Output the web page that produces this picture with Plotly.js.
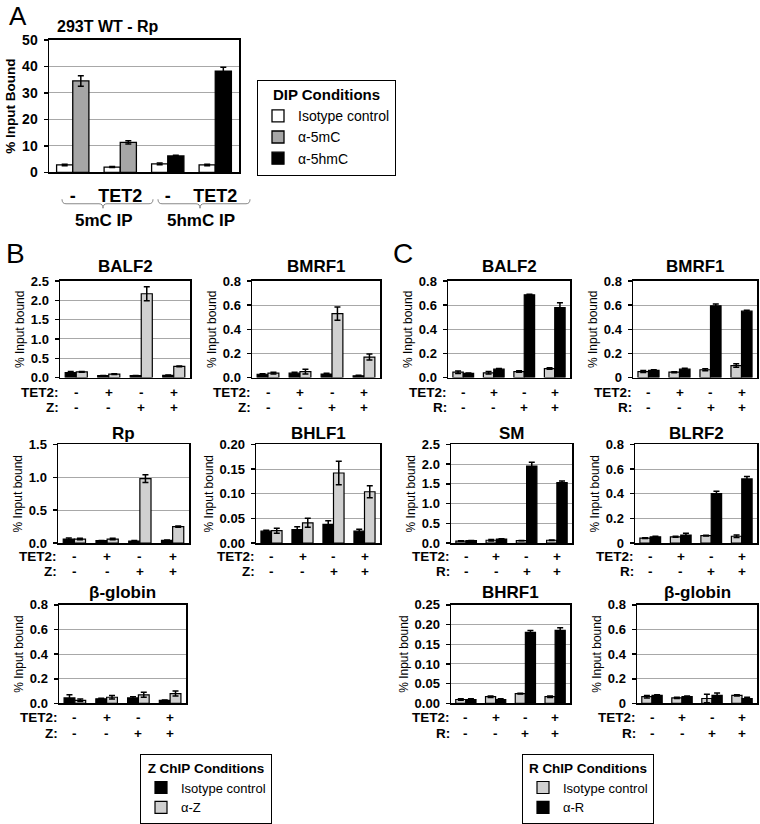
<!DOCTYPE html>
<html><head><meta charset="utf-8">
<script src="https://cdn.plot.ly/plotly-3.0.1.min.js"></script>
<style>html,body{margin:0;padding:0;background:#fff}</style>
</head><body><div id="chart" style="width:760px;height:824px"></div>
<script>
// ---------- Panel A data ----------
const aGroups = ['-', 'TET2', '-', 'TET2'];
const aIsotype = [2.8, 2.0, 3.2, 2.8];
const aIsotypeErr = [0.3, 0.2, 0.3, 0.3];
const a5mC = [34.5, 11.3, null, null];
const a5mCErr = [2.0, 0.6, 0, 0];
const a5hmC = [null, null, 6.2, 38.2];
const a5hmCErr = [0, 0, 0.3, 1.5];
const aIpLabels = ['5mC IP', '5hmC IP'];

// ---------- Row labels ----------
const tet2Row = ['-', '+', '-', '+'];
const zRow = ['-', '-', '+', '+'];
const rRow = ['-', '-', '+', '+'];

// ---------- Panel B (Z ChIP) ----------
const zBALF2Iso = [0.13, 0.05, 0.05, 0.06];
const zBALF2IsoErr = [0.03, 0.005, 0.005, 0.01];
const zBALF2Ab = [0.15, 0.09, 2.17, 0.29];
const zBALF2AbErr = [0.01, 0.01, 0.18, 0.01];

const zBMRF1Iso = [0.028, 0.037, 0.03, 0.015];
const zBMRF1IsoErr = [0.005, 0.008, 0.006, 0.004];
const zBMRF1Ab = [0.037, 0.05, 0.53, 0.17];
const zBMRF1AbErr = [0.007, 0.02, 0.055, 0.025];

const zRpIso = [0.06, 0.035, 0.03, 0.04];
const zRpIsoErr = [0.015, 0.005, 0.008, 0.005];
const zRpAb = [0.06, 0.06, 0.98, 0.25];
const zRpAbErr = [0.012, 0.012, 0.06, 0.01];

const zBHLF1Iso = [0.024, 0.027, 0.038, 0.024];
const zBHLF1IsoErr = [0.002, 0.006, 0.007, 0.004];
const zBHLF1Ab = [0.025, 0.041, 0.142, 0.104];
const zBHLF1AbErr = [0.005, 0.009, 0.024, 0.012];

const zGlobinIso = [0.045, 0.038, 0.045, 0.025];
const zGlobinIsoErr = [0.025, 0.005, 0.01, 0.003];
const zGlobinAb = [0.025, 0.05, 0.07, 0.08];
const zGlobinAbErr = [0.01, 0.015, 0.02, 0.02];

// ---------- Panel C (R ChIP) ----------
const rBALF2Iso = [0.045, 0.04, 0.05, 0.075];
const rBALF2IsoErr = [0.01, 0.01, 0.006, 0.006];
const rBALF2Ab = [0.035, 0.07, 0.685, 0.58];
const rBALF2AbErr = [0.003, 0.005, 0.005, 0.04];

const rBMRF1Iso = [0.05, 0.045, 0.065, 0.1];
const rBMRF1IsoErr = [0.008, 0.004, 0.008, 0.015];
const rBMRF1Ab = [0.06, 0.07, 0.595, 0.55];
const rBMRF1AbErr = [0.005, 0.008, 0.015, 0.008];

const rSMIso = [0.05, 0.07, 0.06, 0.07];
const rSMIsoErr = [0.005, 0.02, 0.005, 0.005];
const rSMAb = [0.06, 0.1, 1.95, 1.53];
const rSMAbErr = [0.005, 0.01, 0.1, 0.04];

const rBLRF2Iso = [0.04, 0.05, 0.06, 0.055];
const rBLRF2IsoErr = [0.003, 0.004, 0.004, 0.01];
const rBLRF2Ab = [0.05, 0.065, 0.4, 0.52];
const rBLRF2AbErr = [0.005, 0.015, 0.02, 0.02];

const rBHRF1Iso = [0.01, 0.017, 0.025, 0.017];
const rBHRF1IsoErr = [0.002, 0.002, 0.001, 0.002];
const rBHRF1Ab = [0.01, 0.01, 0.18, 0.185];
const rBHRF1AbErr = [0.002, 0.002, 0.005, 0.007];

const rGlobinIso = [0.055, 0.045, 0.04, 0.065];
const rGlobinIsoErr = [0.01, 0.005, 0.035, 0.005];
const rGlobinAb = [0.065, 0.055, 0.065, 0.04];
const rGlobinAbErr = [0.005, 0.005, 0.02, 0.01];

// ---------- helpers ----------
const W = 760, H = 824;
const px = x => x / W, py = y => 1 - y / H;
const FONT = '"Liberation Sans", Arial, Helvetica, sans-serif';
const cats = [0, 1, 2, 3];
const traces = [], annotations = [], shapes = [];
const layout = {
  width: W, height: H, margin: {l: 0, r: 0, t: 0, b: 0},
  paper_bgcolor: '#fff', plot_bgcolor: '#fff',
  barmode: 'group', bargap: 0.32, bargroupgap: 0,
  font: {family: FONT, color: '#000', size: 12},
  showlegend: true,
  annotations, shapes
};
const ZERO_LABELS = ['0', '0.2', '0.4', '0.6', '0.8'];
const F = (size) => ({family: FONT, size, color: '#000'});

function errObj(arr) {
  return {type: 'data', array: arr, visible: true, color: '#000', thickness: 1.5, width: 3};
}
function ann(text, x, y, opts) {
  annotations.push(Object.assign({text, x, y, xref: 'paper', yref: 'paper', showarrow: false,
    xanchor: 'center', yanchor: 'middle', font: F(14)}, opts || {}));
}

function axes(idx, box, yr, dt, fmt, ticktext, ytitle, ytitleFont, tickSize) {
  const s = idx === 1 ? '' : idx;
  layout['xaxis' + s] = {
    domain: [px(box[0]), px(box[1])], range: [-0.5, 3.5], anchor: 'y' + s,
    showline: true, mirror: true, linecolor: '#000', linewidth: 1.5,
    ticks: '', showticklabels: false, showgrid: false, zeroline: false, fixedrange: true
  };
  const ya = {
    domain: [py(box[3]), py(box[2])], range: yr, anchor: 'x' + s,
    showline: true, mirror: true, linecolor: '#000', linewidth: 1.5,
    ticks: 'outside', ticklen: 4, tickwidth: 1.5, tickcolor: '#000',
    showgrid: true, gridcolor: '#a8a8a8', gridwidth: 1, zeroline: false,
    tickfont: {family: FONT, size: tickSize, color: '#000', weight: 'bold'},
    ticklabelstandoff: 3,
    title: {text: ytitle, font: ytitleFont, standoff: 3}, fixedrange: true
  };
  if (ticktext) {
    ya.tickmode = 'array';
    ya.tickvals = ticktext.map(Number);
    ya.ticktext = ticktext;
  } else {
    ya.dtick = dt; ya.tick0 = 0; ya.tickformat = fmt;
  }
  layout['yaxis' + s] = ya;
}

// ---------- Panel A ----------
axes(1, [49, 239, 40, 173], [0, 50], 10, 'd', null, '<b>% Input Bound</b>', F(13.5), 14);
layout.xaxis.showticklabels = true;
layout.xaxis.tickmode = 'array';
layout.xaxis.tickvals = cats;
layout.xaxis.ticktext = aGroups;
layout.xaxis.tickfont = {family: FONT, size: 18, color: '#000', weight: 'bold'};
layout.xaxis.ticklabelstandoff = 7;

traces.push({type: 'bar', x: cats, y: aIsotype, error_y: errObj(aIsotypeErr), xaxis: 'x', yaxis: 'y',
  marker: {color: '#ffffff', line: {color: '#000', width: 1.3}}, name: 'Isotype control',
  legend: 'legend', legendgroup: 'a1', offsetgroup: '1', hoverinfo: 'skip'});
traces.push({type: 'bar', x: cats, y: a5mC, error_y: errObj(a5mCErr), xaxis: 'x', yaxis: 'y',
  marker: {color: '#a6a6a6', line: {color: '#000', width: 1.3}}, name: 'α-5mC',
  legend: 'legend', legendgroup: 'a2', offsetgroup: '2', hoverinfo: 'skip'});
traces.push({type: 'bar', x: cats, y: a5hmC, error_y: errObj(a5hmCErr), xaxis: 'x', yaxis: 'y',
  marker: {color: '#000000', line: {color: '#000', width: 1.3}}, name: 'α-5hmC',
  legend: 'legend', legendgroup: 'a3', offsetgroup: '2', hoverinfo: 'skip'});

ann('A', px(18), py(16), {font: F(26)});
ann('<b>293T WT - Rp</b>', px(55), py(27), {xanchor: 'left', font: F(16)});
ann('<b>' + aIpLabels[0] + '</b>', px(104), py(221), {font: F(17)});
ann('<b>' + aIpLabels[1] + '</b>', px(201), py(221), {font: F(17)});

function brace(x0, xm, x1, yt, yb) {
  const ym = (yt + yb) / 2;
  const P = (x, y) => px(x).toFixed(5) + ',' + py(y).toFixed(5);
  return 'M' + P(x0, yt) + ' Q' + P(x0, ym) + ' ' + P(x0 + 4, ym) +
    ' L' + P(xm - 4, ym) + ' Q' + P(xm, ym) + ' ' + P(xm, yb) +
    ' Q' + P(xm, ym) + ' ' + P(xm + 4, ym) +
    ' L' + P(x1 - 4, ym) + ' Q' + P(x1, ym) + ' ' + P(x1, yt);
}
shapes.push({type: 'path', xref: 'paper', yref: 'paper', path: brace(62, 103, 153, 200, 209),
  line: {color: '#888', width: 1}});
shapes.push({type: 'path', xref: 'paper', yref: 'paper', path: brace(158, 200, 250, 200, 209),
  line: {color: '#888', width: 1}});

layout.legend = {
  x: px(257), y: py(80), xanchor: 'left', yanchor: 'top',
  bordercolor: '#000', borderwidth: 1, bgcolor: '#fff',
  font: F(14),
  title: {text: '<b>DIP Conditions</b>', side: 'top center', font: F(15)},
  traceorder: 'grouped', tracegroupgap: 0, itemclick: false, itemdoubleclick: false
};

// ---------- Panels B and C ----------
const ROWS = {
  1: {t: 267, r1: 394, r2: 409},
  2: {t: 435, r1: 559, r2: 574},
  3: {t: 595, r1: 720, r2: 736}
};
const bSpecs = [
  {g: 'BALF2', iso: zBALF2Iso, isoE: zBALF2IsoErr, ab: zBALF2Ab, abE: zBALF2AbErr, box: [60, 190, 282, 379], row: 1, yr: [0, 2.5], dt: 0.5, fmt: '.1f'},
  {g: 'BMRF1', iso: zBMRF1Iso, isoE: zBMRF1IsoErr, ab: zBMRF1Ab, abE: zBMRF1AbErr, box: [252, 380, 282, 379], row: 1, yr: [0, 0.8], dt: 0.2, fmt: '.1f'},
  {g: 'Rp', iso: zRpIso, isoE: zRpIsoErr, ab: zRpAb, abE: zRpAbErr, box: [58, 189, 446, 545], row: 2, yr: [0, 1.5], dt: 0.5, fmt: '.1f'},
  {g: 'BHLF1', iso: zBHLF1Iso, isoE: zBHLF1IsoErr, ab: zBHLF1Ab, abE: zBHLF1AbErr, box: [256, 380, 446, 545], row: 2, yr: [0, 0.2], dt: 0.05, fmt: '.2f'},
  {g: 'β-globin', iso: zGlobinIso, isoE: zGlobinIsoErr, ab: zGlobinAb, abE: zGlobinAbErr, box: [59, 186, 607, 706], row: 3, yr: [0, 0.8], dt: 0.2, fmt: '.1f'}
];
const cSpecs = [
  {g: 'BALF2', iso: rBALF2Iso, isoE: rBALF2IsoErr, ab: rBALF2Ab, abE: rBALF2AbErr, box: [448, 570, 282, 379], row: 1, yr: [0, 0.8], dt: 0.2, fmt: '.1f'},
  {g: 'BMRF1', iso: rBMRF1Iso, isoE: rBMRF1IsoErr, ab: rBMRF1Ab, abE: rBMRF1AbErr, box: [633, 757, 282, 379], row: 1, yr: [0, 0.8], tt: ZERO_LABELS},
  {g: 'SM', iso: rSMIso, isoE: rSMIsoErr, ab: rSMAb, abE: rSMAbErr, box: [451, 572, 446, 545], row: 2, yr: [0, 2.5], dt: 0.5, fmt: '.1f'},
  {g: 'BLRF2', iso: rBLRF2Iso, isoE: rBLRF2IsoErr, ab: rBLRF2Ab, abE: rBLRF2AbErr, box: [635, 757, 446, 545], row: 2, yr: [0, 0.8], tt: ZERO_LABELS},
  {g: 'BHRF1', iso: rBHRF1Iso, isoE: rBHRF1IsoErr, ab: rBHRF1Ab, abE: rBHRF1AbErr, box: [451, 570, 607, 706], row: 3, yr: [0, 0.25], dt: 0.05, fmt: '.2f'},
  {g: 'β-globin', iso: rGlobinIso, isoE: rGlobinIsoErr, ab: rGlobinAb, abE: rGlobinAbErr, box: [637, 757, 607, 706], row: 3, yr: [0, 0.8], tt: ZERO_LABELS}
];

let idx = 2;
function addPanel(specs, isoColor, abColor, isoName, abName, legendId, secondLabel, secondRow) {
  specs.forEach((sp, k) => {
    const s = idx;
    axes(s, sp.box, sp.yr, sp.dt, sp.fmt, sp.tt, '% Input bound', F(12), 13);
    const xa = 'x' + s, ya = 'y' + s;
    traces.push({type: 'bar', x: cats, y: sp.iso, error_y: errObj(sp.isoE), xaxis: xa, yaxis: ya,
      marker: {color: isoColor, line: {color: '#000', width: 1.2}}, name: isoName,
      legend: legendId, legendgroup: legendId + 'iso', showlegend: k === 0, offsetgroup: '1', hoverinfo: 'skip'});
    traces.push({type: 'bar', x: cats, y: sp.ab, error_y: errObj(sp.abE), xaxis: xa, yaxis: ya,
      marker: {color: abColor, line: {color: '#000', width: 1.2}}, name: abName,
      legend: legendId, legendgroup: legendId + 'ab', showlegend: k === 0, offsetgroup: '2', hoverinfo: 'skip'});
    const R = ROWS[sp.row];
    const b = sp.box;
    ann('<b>' + sp.g + '</b>', px((b[0] + b[1]) / 2), py(R.t), {font: F(17)});
    const rf = F(13.5);
    ann('<b>TET2:</b>', px(b[0] + 1), py(R.r1), {xanchor: 'right', font: rf});
    ann('<b>' + secondLabel + '</b>', px(b[0] + 1), py(R.r2), {xanchor: 'right', font: rf});
    cats.forEach(c => {
      annotations.push({text: '<b>' + tet2Row[c] + '</b>', x: c, y: py(R.r1), xref: xa, yref: 'paper',
        showarrow: false, xanchor: 'center', yanchor: 'middle', font: rf});
      annotations.push({text: '<b>' + secondRow[c] + '</b>', x: c, y: py(R.r2), xref: xa, yref: 'paper',
        showarrow: false, xanchor: 'center', yanchor: 'middle', font: rf});
    });
    idx++;
  });
}
addPanel(bSpecs, '#000000', '#d0d0d0', 'Isotype control', 'α-Z', 'legend2', 'Z:', zRow);
addPanel(cSpecs, '#d0d0d0', '#000000', 'Isotype control', 'α-R', 'legend3', 'R:', rRow);

ann('B', px(15), py(254), {font: F(28)});
ann('C', px(403), py(254), {font: F(28)});

const smallLeg = (x, title) => ({
  x: px(x), y: py(757), xanchor: 'left', yanchor: 'top',
  bordercolor: '#000', borderwidth: 1, bgcolor: '#fff',
  font: F(13),
  title: {text: '<b>' + title + '</b>', side: 'top center', font: F(13.5)},
  traceorder: 'grouped', tracegroupgap: 0, itemclick: false, itemdoubleclick: false
});
layout.legend2 = smallLeg(140, 'Z ChIP Conditions');
layout.legend3 = smallLeg(522, 'R ChIP Conditions');

Plotly.newPlot('chart', traces, layout, {staticPlot: true, displayModeBar: false});
</script>
</body></html>
